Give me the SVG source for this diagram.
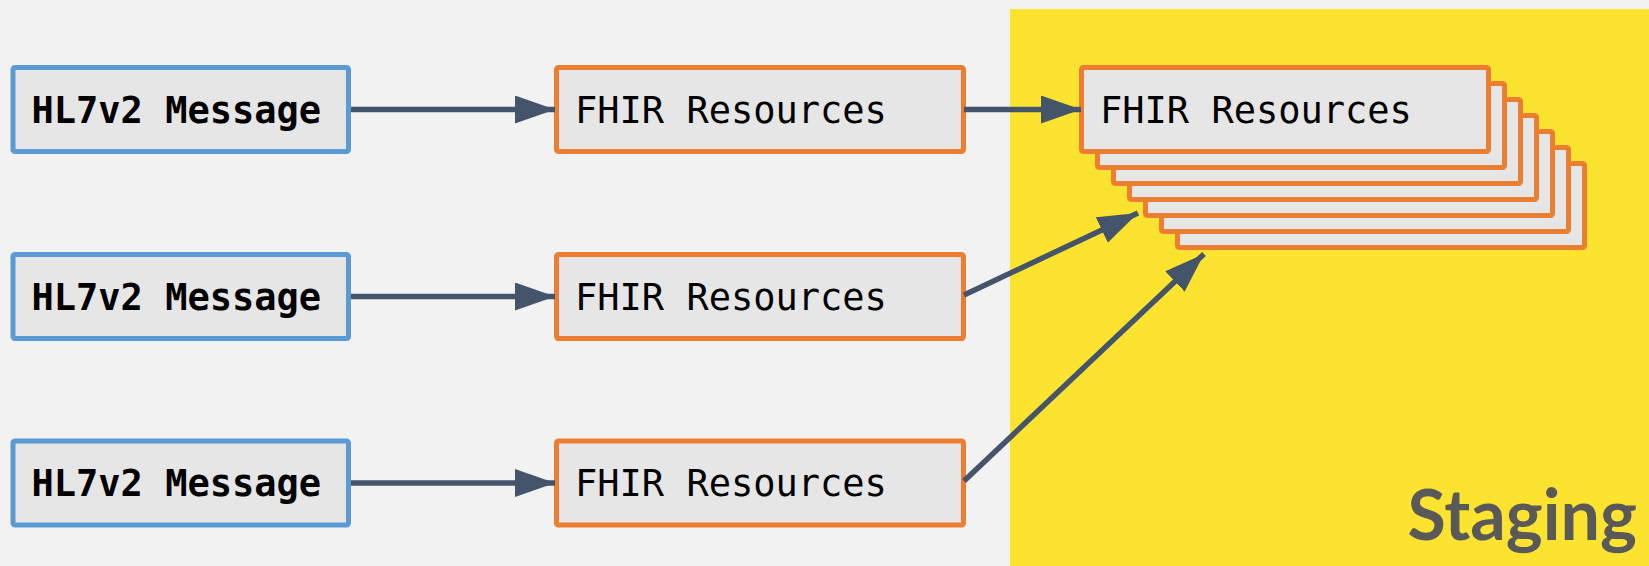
<svg xmlns="http://www.w3.org/2000/svg" width="1649" height="566" viewBox="0 0 1649 566">
  <style>
    .bg { fill: #f2f2f2; }
    .staging { fill: #fce32f; }
    .box { fill: #e6e6e6; stroke-width: 5; stroke-linejoin: round; }
    .hl7 { stroke: #5b9bd5; }
    .fhir { stroke: #ed7d31; }
    .mono { font-family: "DejaVu Sans Mono", "Liberation Mono", monospace; font-size: 37px; fill: #000000; }
    .bold { font-weight: bold; }
    .conn { stroke: #44546a; stroke-width: 5.5; fill: none; marker-end: url(#arrow); }
    .zone-label { font-family: Lato, "Open Sans", sans-serif; font-weight: bold; font-size: 70px; fill: #595959; }
  </style>
  <defs>
    <marker id="arrow" viewBox="0 0 40 28" refX="40" refY="14" markerWidth="40" markerHeight="28" markerUnits="userSpaceOnUse" orient="auto">
      <path d="M0,0 L40,14 L0,28 z" fill="#44546a"/>
    </marker>
  </defs>

  <!-- background and staging area -->
  <rect class="bg" x="0" y="0" width="1649" height="566"/>
  <g id="staging-area">
    <rect class="staging" x="1010" y="9" width="639" height="557"/>
    <text class="zone-label" x="1637" y="540" text-anchor="end">Staging</text>
  </g>

  <!-- source messages -->
  <g id="hl7-1">
    <rect class="box hl7" x="13" y="67.5" width="335.5" height="84" rx="2"/>
    <text class="mono bold" x="31.5" y="122.5">HL7v2 Message</text>
  </g>
  <g id="hl7-2">
    <rect class="box hl7" x="13" y="254.5" width="335.5" height="84" rx="2"/>
    <text class="mono bold" x="31.5" y="309.5">HL7v2 Message</text>
  </g>
  <g id="hl7-3">
    <rect class="box hl7" x="13" y="441" width="335.5" height="84" rx="2"/>
    <text class="mono bold" x="31.5" y="496">HL7v2 Message</text>
  </g>

  <!-- converted resources -->
  <g id="fhir-1">
    <rect class="box fhir" x="556.5" y="67.5" width="407" height="84" rx="2"/>
    <text class="mono" x="575" y="122.5">FHIR Resources</text>
  </g>
  <g id="fhir-2">
    <rect class="box fhir" x="556.5" y="254.5" width="407" height="84" rx="2"/>
    <text class="mono" x="575" y="309.5">FHIR Resources</text>
  </g>
  <g id="fhir-3">
    <rect class="box fhir" x="556.5" y="441" width="407" height="84" rx="2"/>
    <text class="mono" x="575" y="496">FHIR Resources</text>
  </g>

  <!-- staged resource stack: back cards first, front card last -->
  <g id="staged-stack">
    <rect class="box fhir" x="1177.5" y="163.5" width="407" height="84" rx="2"/>
    <rect class="box fhir" x="1161.5" y="147.5" width="407" height="84" rx="2"/>
    <rect class="box fhir" x="1145.5" y="131.5" width="407" height="84" rx="2"/>
    <rect class="box fhir" x="1129.5" y="115.5" width="407" height="84" rx="2"/>
    <rect class="box fhir" x="1113.5" y="99.5" width="407" height="84" rx="2"/>
    <rect class="box fhir" x="1097.5" y="83.5" width="407" height="84" rx="2"/>
    <rect class="box fhir" x="1081.5" y="67.5" width="407" height="84" rx="2"/>
    <text class="mono" x="1100" y="122.5">FHIR Resources</text>
  </g>

  <!-- connectors -->
  <g id="connectors">
    <line class="conn" x1="351" y1="109.5" x2="555" y2="109.5"/>
    <line class="conn" x1="351" y1="296.5" x2="555" y2="296.5"/>
    <line class="conn" x1="351" y1="483" x2="555" y2="483"/>
    <line class="conn" x1="964" y1="109.5" x2="1081" y2="109.5"/>
    <line class="conn" x1="964" y1="295" x2="1138" y2="213"/>
    <line class="conn" x1="964" y1="481" x2="1204" y2="254"/>
  </g>
</svg>
